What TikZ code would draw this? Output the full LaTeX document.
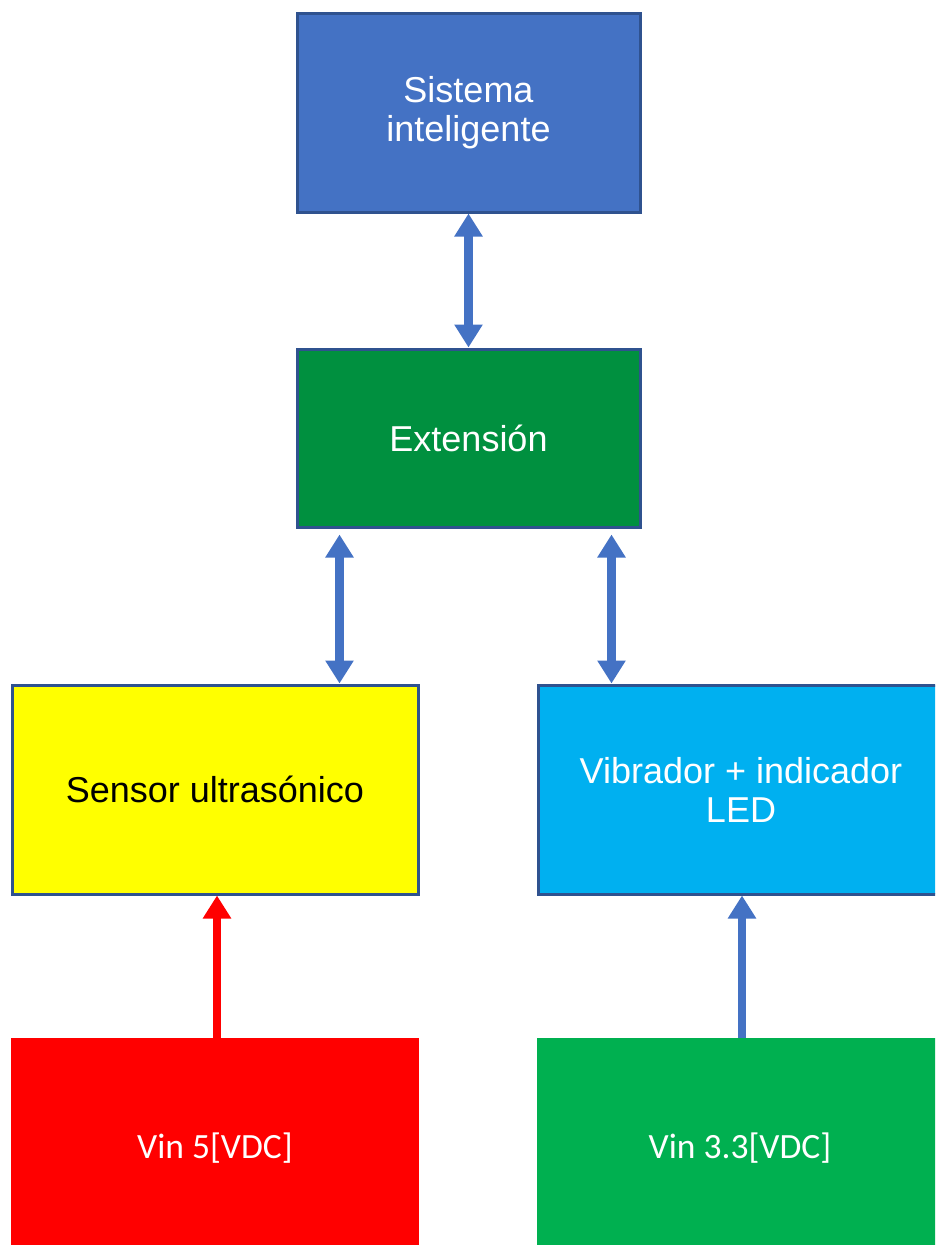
\documentclass[tikz,border=0pt]{standalone}
\usepackage{fontspec}
\setmainfont{Liberation Sans}
\newfontfamily\calib{Carlito}
\usetikzlibrary{arrows.meta}
\definecolor{bblue}{HTML}{4472C4}
\definecolor{bedge}{HTML}{2F528F}
\definecolor{extg}{HTML}{00903F}
\definecolor{vibc}{HTML}{00B0F0}
\definecolor{vgreen}{HTML}{00B050}
\definecolor{yel}{HTML}{FFFF00}
\definecolor{rd}{HTML}{FF0000}
\tikzset{
  blk/.style={draw=bedge, line width=3pt, inner sep=0pt, align=center,
    font=\fontsize{36}{39}\selectfont},
  pwr/.style={draw=none, inner sep=0pt, align=center, text=white,
    font=\calib\fontsize{35.5}{38}\selectfont},
  dbl/.style={line width=8.5pt, bblue, {Triangle[length=23pt,width=27pt]}-{Triangle[length=23pt,width=27pt]}},
  sgl/.style={line width=8pt, -{Triangle[length=23pt,width=27pt]}},
}
\begin{document}
\begin{tikzpicture}[x=1pt,y=-1pt]
\useasboundingbox (0,0) rectangle (935,1245);
\begin{scope}
\clip (0,0) rectangle (935,1245);
\node[blk, fill=bblue, text=white, minimum width=343pt, minimum height=199pt] (sis) at (468.5,112.5) {Sistema\\inteligente};
\node[blk, fill=extg, text=white, minimum width=343pt, minimum height=178pt] (ext) at (468.5,438) {Extensión};
\node[blk, fill=yel, text=black, minimum width=406pt, minimum height=209pt] (sen) at (215,789.5) {Sensor ultrasónico};
\node[blk, fill=vibc, text=white, minimum width=406pt, minimum height=209pt] (vib) at (741,789.5) {Vibrador + indicador\\LED};
\node[pwr, fill=rd, minimum width=408pt, minimum height=220pt] (v5) at (215,1148) {Vin 5[VDC]};
\node[pwr, fill=vgreen, minimum width=406pt, minimum height=220pt] (v33) at (740,1148) {Vin 3.3[VDC]};
\end{scope}
\coordinate (lt) at ([xshift=44pt,yshift=-6pt]ext.south west);
\coordinate (rt) at ([xshift=316pt,yshift=-6pt]ext.south west);
\draw[dbl] (sis.south) -- (ext.north);
\draw[dbl] (lt) -- (lt |- sen.north);
\draw[dbl] (rt) -- (rt |- vib.north);
\draw[sgl, rd] (v5.north -| 217,0) -- (sen.south -| 217,0);
\draw[sgl, bblue] (v33.north -| 742,0) -- (vib.south -| 742,0);
\end{tikzpicture}
\end{document}
